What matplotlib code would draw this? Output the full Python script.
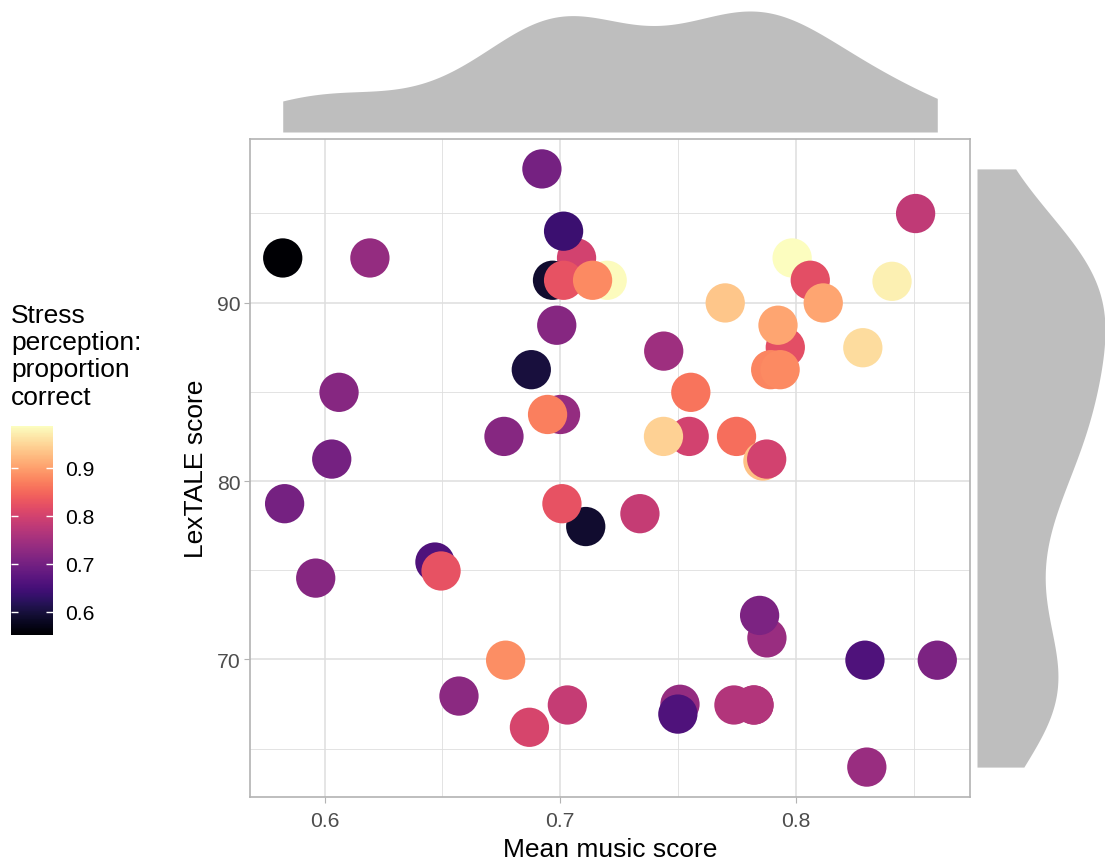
import numpy as np
import matplotlib
matplotlib.use("Agg")
import matplotlib.pyplot as plt
from matplotlib.ticker import MultipleLocator

plt.rcParams['font.family'] = ['Liberation Sans', 'DejaVu Sans']

# values, in drawing order
# (one point sits exactly under another, as the marginal density suggests)
music_score = [0.5822, 0.6192, 0.6922, 0.7069, 0.7199, 0.6967, 0.7014, 0.7137, 0.7014,
               0.6985, 0.6877, 0.7001, 0.6946, 0.6761, 0.6061, 0.6030,
               0.8508, 0.7984, 0.8061, 0.8408, 0.7700, 0.8116, 0.7955, 0.7924, 0.8284,
               0.7439, 0.7893, 0.7933, 0.7554, 0.7547, 0.7438, 0.7748, 0.7860, 0.7876,
               0.5830, 0.5962, 0.6468, 0.6494, 0.7108, 0.7007, 0.7338,
               0.7877, 0.7846, 0.8293, 0.8600, 0.6768, 0.6570, 0.7030, 0.6869,
               0.7508, 0.7499, 0.7737, 0.7822, 0.7822, 0.8301]
lextale = [92.50, 92.50, 97.49, 92.50, 91.25, 91.25, 91.25, 91.25, 94.00,
           88.73, 86.24, 83.73, 83.73, 82.50, 84.97, 81.23,
           94.99, 92.50, 91.25, 91.19, 89.98, 89.98, 87.49, 88.73, 87.47,
           87.28, 86.24, 86.24, 84.97, 82.50, 82.50, 82.50, 81.12, 81.23,
           78.73, 74.56, 75.46, 74.96, 77.45, 78.73, 78.17,
           71.21, 72.47, 69.96, 69.96, 69.96, 67.95, 67.45, 66.20,
           67.49, 66.94, 67.45, 67.45, 67.45, 63.97]
stress = [0.552, 0.735, 0.700, 0.800, 0.985, 0.590, 0.825, 0.880, 0.640,
          0.720, 0.600, 0.735, 0.870, 0.720, 0.720, 0.700,
          0.780, 0.987, 0.820, 0.975, 0.935, 0.905, 0.820, 0.905, 0.955,
          0.745, 0.875, 0.880, 0.860, 0.800, 0.945, 0.855, 0.930, 0.800,
          0.700, 0.720, 0.660, 0.825, 0.590, 0.825, 0.785,
          0.740, 0.710, 0.660, 0.710, 0.885, 0.725, 0.785, 0.805,
          0.735, 0.660, 0.765, 0.765, 0.765, 0.740]

x = np.array(music_score)
y = np.array(lextale)
c = np.array(stress)


def kde(v, n=512):
    # gaussian density with R's nrd0 bandwidth, over the data range
    sd = v.std(ddof=1)
    iqr = np.subtract(*np.percentile(v, [75, 25]))
    bw = 0.9 * min(sd, iqr / 1.34) * len(v) ** -0.2
    g = np.linspace(v.min(), v.max(), n)
    d = np.exp(-0.5 * ((g[:, None] - v[None, :]) / bw) ** 2).sum(axis=1)
    d /= len(v) * bw * np.sqrt(2 * np.pi)
    return g, d


def expand(v, f=0.05):
    r = v.max() - v.min()
    return v.min() - f * r, v.max() + f * r


W, H = 1105, 862
fig = plt.figure(figsize=(W / 100, H / 100), dpi=100)

def box(l, t, r, b):
    return [l / W, 1 - b / H, (r - l) / W, (b - t) / H]

grid_col = '#DEDEDE'
ax = fig.add_axes(box(250, 140, 970, 798))
sc = ax.scatter(x, y, c=c, cmap='magma', vmin=c.min(), vmax=c.max(),
                s=800, linewidths=0, zorder=3)
ax.set_xlim(*expand(x))
ax.set_ylim(*expand(y))
ax.xaxis.set_major_locator(MultipleLocator(0.1))
ax.xaxis.set_minor_locator(MultipleLocator(0.05))
ax.yaxis.set_major_locator(MultipleLocator(10))
ax.yaxis.set_minor_locator(MultipleLocator(5))
ax.grid(True, which='major', color=grid_col, linewidth=1.1)
ax.grid(True, which='minor', color=grid_col, linewidth=0.6)
ax.set_axisbelow(True)
for s in ax.spines.values():
    s.set_color('#B3B3B3')
    s.set_linewidth(1.2)
ax.tick_params(which='major', length=4, width=0.8, color='#B3B3B3',
               labelsize=15.2, labelcolor='#4D4D4D', pad=3)
ax.tick_params(axis='x', which='major', pad=6)
ax.tick_params(which='minor', length=0)
ax.set_xlabel('Mean music score', fontsize=19, labelpad=5)
ax.set_ylabel('LexTALE score', fontsize=19, labelpad=6)

# top marginal density
gx, dx = kde(x)
axt = fig.add_axes(box(250, 0, 970, 133))
axt.fill_between(gx, 0, dx, color='#BEBEBE', linewidth=0)
axt.set_xlim(ax.get_xlim())
axt.set_ylim(0, dx.max() * 133 / 121)
axt.axis('off')

# right marginal density
gy, dy = kde(y)
axr = fig.add_axes(box(977, 140, 1105, 798))
axr.fill_betweenx(gy, 0, dy, color='#BEBEBE', linewidth=0)
axr.set_ylim(ax.get_ylim())
axr.set_xlim(0, dy.max())
axr.axis('off')

# colour bar legend
cax = fig.add_axes(box(11, 427, 53, 636))
cb = fig.colorbar(sc, cax=cax)
cb.outline.set_visible(False)
cb.set_ticks([0.6, 0.7, 0.8, 0.9])
cax.tick_params(direction='in', left=True, right=True, length=5, width=1,
                color='white', labelsize=15.2, labelcolor='black', pad=9)
fig.text(11 / W, 1 - 304 / H, 'Stress\nperception:\nproportion\ncorrect',
         fontsize=19, va='top', ha='left', linespacing=1.17)

fig.savefig('out.png', dpi=100)
